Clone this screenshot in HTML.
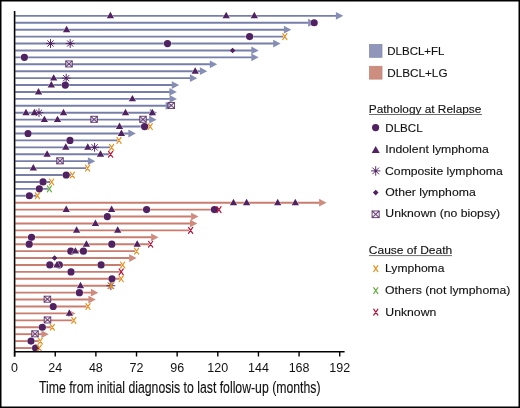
<!DOCTYPE html>
<html><head><meta charset="utf-8"><title>Swimmer plot</title>
<style>
html,body{margin:0;padding:0;background:#fff;}
body{width:520px;height:408px;overflow:hidden;font-family:"Liberation Sans",sans-serif;}
svg{display:block;will-change:transform;}
svg text{font-family:"Liberation Sans",sans-serif;fill:#111;stroke:#111;stroke-width:0.12px;}
</style></head><body>
<svg width='520' height='408' viewBox='0 0 520 408' font-family='Liberation Sans, sans-serif' fill='#111'><line x1="15.2" y1="15.85" x2="336.4" y2="15.85" stroke="#777fa9" stroke-width="1.9"/><polygon points="335.9,11.95 343.3,15.85 335.9,19.75" fill="#878eb6"/><line x1="15.2" y1="22.77" x2="308.6" y2="22.77" stroke="#777fa9" stroke-width="1.9"/><polygon points="308.1,18.87 315.5,22.77 308.1,26.67" fill="#878eb6"/><line x1="15.2" y1="29.69" x2="284.4" y2="29.69" stroke="#777fa9" stroke-width="1.9"/><polygon points="283.9,25.79 291.3,29.69 283.9,33.59" fill="#878eb6"/><line x1="15.2" y1="36.61" x2="283.3" y2="36.61" stroke="#777fa9" stroke-width="1.9"/><line x1="15.2" y1="43.53" x2="273.7" y2="43.53" stroke="#777fa9" stroke-width="1.9"/><polygon points="273.2,39.63 280.6,43.53 273.2,47.43" fill="#878eb6"/><line x1="15.2" y1="50.45" x2="251.8" y2="50.45" stroke="#777fa9" stroke-width="1.9"/><polygon points="251.3,46.55 258.7,50.45 251.3,54.35" fill="#878eb6"/><line x1="15.2" y1="57.37" x2="251.8" y2="57.37" stroke="#777fa9" stroke-width="1.9"/><polygon points="251.3,53.47 258.7,57.37 251.3,61.27" fill="#878eb6"/><line x1="15.2" y1="64.29" x2="210.3" y2="64.29" stroke="#777fa9" stroke-width="1.9"/><polygon points="209.8,60.39 217.2,64.29 209.8,68.19" fill="#878eb6"/><line x1="15.2" y1="71.21" x2="200.4" y2="71.21" stroke="#777fa9" stroke-width="1.9"/><polygon points="199.9,67.31 207.3,71.21 199.9,75.11" fill="#878eb6"/><line x1="15.2" y1="78.13" x2="190.4" y2="78.13" stroke="#777fa9" stroke-width="1.9"/><polygon points="189.9,74.23 197.3,78.13 189.9,82.03" fill="#878eb6"/><line x1="15.2" y1="85.05" x2="172.3" y2="85.05" stroke="#777fa9" stroke-width="1.9"/><polygon points="171.8,81.15 179.2,85.05 171.8,88.95" fill="#878eb6"/><line x1="15.2" y1="91.97" x2="169.9" y2="91.97" stroke="#777fa9" stroke-width="1.9"/><polygon points="169.4,88.07 176.8,91.97 169.4,95.87" fill="#878eb6"/><line x1="15.2" y1="98.89" x2="170.1" y2="98.89" stroke="#777fa9" stroke-width="1.9"/><polygon points="169.6,94.99 177,98.89 169.6,102.79" fill="#878eb6"/><line x1="15.2" y1="105.81" x2="166.1" y2="105.81" stroke="#777fa9" stroke-width="1.9"/><polygon points="165.6,101.91 173,105.81 165.6,109.71" fill="#878eb6"/><line x1="15.2" y1="112.73" x2="150.3" y2="112.73" stroke="#777fa9" stroke-width="1.9"/><polygon points="149.8,108.83 157.2,112.73 149.8,116.63" fill="#878eb6"/><line x1="15.2" y1="119.65" x2="149.7" y2="119.65" stroke="#777fa9" stroke-width="1.9"/><polygon points="149.2,115.75 156.6,119.65 149.2,123.55" fill="#878eb6"/><line x1="15.2" y1="126.57" x2="148.7" y2="126.57" stroke="#777fa9" stroke-width="1.9"/><line x1="15.2" y1="133.49" x2="128.9" y2="133.49" stroke="#777fa9" stroke-width="1.9"/><polygon points="128.4,129.59 135.8,133.49 128.4,137.39" fill="#878eb6"/><line x1="15.2" y1="140.41" x2="117.5" y2="140.41" stroke="#777fa9" stroke-width="1.9"/><line x1="15.2" y1="147.33" x2="110.1" y2="147.33" stroke="#777fa9" stroke-width="1.9"/><line x1="15.2" y1="154.25" x2="109.1" y2="154.25" stroke="#777fa9" stroke-width="1.9"/><line x1="15.2" y1="161.17" x2="88.4" y2="161.17" stroke="#777fa9" stroke-width="1.9"/><polygon points="87.9,157.27 95.3,161.17 87.9,165.07" fill="#878eb6"/><line x1="15.2" y1="168.09" x2="86.1" y2="168.09" stroke="#777fa9" stroke-width="1.9"/><line x1="15.2" y1="175.01" x2="70.9" y2="175.01" stroke="#777fa9" stroke-width="1.9"/><line x1="15.2" y1="181.93" x2="50.1" y2="181.93" stroke="#777fa9" stroke-width="1.9"/><line x1="15.2" y1="188.85" x2="47.9" y2="188.85" stroke="#777fa9" stroke-width="1.9"/><line x1="15.2" y1="195.77" x2="35.9" y2="195.77" stroke="#777fa9" stroke-width="1.9"/><line x1="15.2" y1="202.69" x2="319.6" y2="202.69" stroke="#c87d6e" stroke-width="1.9"/><polygon points="319.1,198.79 326.5,202.69 319.1,206.59" fill="#cf8c7e"/><line x1="15.2" y1="209.61" x2="217.5" y2="209.61" stroke="#c87d6e" stroke-width="1.9"/><line x1="15.2" y1="216.53" x2="191.6" y2="216.53" stroke="#c87d6e" stroke-width="1.9"/><polygon points="191.1,212.63 198.5,216.53 191.1,220.43" fill="#cf8c7e"/><line x1="15.2" y1="223.45" x2="190.5" y2="223.45" stroke="#c87d6e" stroke-width="1.9"/><polygon points="190,219.55 197.4,223.45 190,227.35" fill="#cf8c7e"/><line x1="15.2" y1="230.37" x2="189.1" y2="230.37" stroke="#c87d6e" stroke-width="1.9"/><line x1="15.2" y1="237.29" x2="151.6" y2="237.29" stroke="#c87d6e" stroke-width="1.9"/><polygon points="151.1,233.39 158.5,237.29 151.1,241.19" fill="#cf8c7e"/><line x1="15.2" y1="244.21" x2="149.1" y2="244.21" stroke="#c87d6e" stroke-width="1.9"/><line x1="15.2" y1="251.13" x2="135.1" y2="251.13" stroke="#c87d6e" stroke-width="1.9"/><line x1="15.2" y1="258.05" x2="129.7" y2="258.05" stroke="#c87d6e" stroke-width="1.9"/><polygon points="129.2,254.15 136.6,258.05 129.2,261.95" fill="#cf8c7e"/><line x1="15.2" y1="264.97" x2="121.2" y2="264.97" stroke="#c87d6e" stroke-width="1.9"/><line x1="15.2" y1="271.89" x2="119.7" y2="271.89" stroke="#c87d6e" stroke-width="1.9"/><line x1="15.2" y1="278.81" x2="119.7" y2="278.81" stroke="#c87d6e" stroke-width="1.9"/><line x1="15.2" y1="285.73" x2="109.5" y2="285.73" stroke="#c87d6e" stroke-width="1.9"/><line x1="15.2" y1="292.65" x2="91.4" y2="292.65" stroke="#c87d6e" stroke-width="1.9"/><polygon points="90.9,288.75 98.3,292.65 90.9,296.55" fill="#cf8c7e"/><line x1="15.2" y1="299.57" x2="88.9" y2="299.57" stroke="#c87d6e" stroke-width="1.9"/><polygon points="88.4,295.67 95.8,299.57 88.4,303.47" fill="#cf8c7e"/><line x1="15.2" y1="306.49" x2="86.5" y2="306.49" stroke="#c87d6e" stroke-width="1.9"/><line x1="15.2" y1="313.41" x2="68.6" y2="313.41" stroke="#c87d6e" stroke-width="1.9"/><polygon points="68.1,309.51 75.5,313.41 68.1,317.31" fill="#cf8c7e"/><line x1="15.2" y1="320.33" x2="72.3" y2="320.33" stroke="#c87d6e" stroke-width="1.9"/><line x1="15.2" y1="327.25" x2="50.8" y2="327.25" stroke="#c87d6e" stroke-width="1.9"/><line x1="15.2" y1="334.17" x2="41.9" y2="334.17" stroke="#c87d6e" stroke-width="1.9"/><polygon points="41.4,330.27 48.8,334.17 41.4,338.07" fill="#cf8c7e"/><line x1="15.2" y1="341.09" x2="38.8" y2="341.09" stroke="#c87d6e" stroke-width="1.9"/><line x1="15.2" y1="348.01" x2="37.7" y2="348.01" stroke="#c87d6e" stroke-width="1.9"/><polygon points="110.4,11.85 114.05,18.3 106.75,18.3" fill="none" stroke="#fff" stroke-width="0.9" stroke-opacity="0.7" stroke-linejoin="round"/><polygon points="110.4,11.85 114.05,18.3 106.75,18.3" fill="#512262"/><polygon points="226.2,11.85 229.85,18.3 222.55,18.3" fill="none" stroke="#fff" stroke-width="0.9" stroke-opacity="0.7" stroke-linejoin="round"/><polygon points="226.2,11.85 229.85,18.3 222.55,18.3" fill="#512262"/><polygon points="254.3,11.85 257.95,18.3 250.65,18.3" fill="none" stroke="#fff" stroke-width="0.9" stroke-opacity="0.7" stroke-linejoin="round"/><polygon points="254.3,11.85 257.95,18.3 250.65,18.3" fill="#512262"/><circle cx="314.2" cy="22.77" r="3.65" fill="none" stroke="#fff" stroke-width="0.8" stroke-opacity="0.7"/><circle cx="314.2" cy="22.77" r="3.6" fill="#512262"/><polygon points="66.6,25.69 70.25,32.14 62.95,32.14" fill="none" stroke="#fff" stroke-width="0.9" stroke-opacity="0.7" stroke-linejoin="round"/><polygon points="66.6,25.69 70.25,32.14 62.95,32.14" fill="#512262"/><circle cx="249.6" cy="36.61" r="3.65" fill="none" stroke="#fff" stroke-width="0.8" stroke-opacity="0.7"/><circle cx="249.6" cy="36.61" r="3.6" fill="#512262"/><path d="M282.7 33.66L286.9 39.56M282.7 39.56L286.9 33.66" stroke="#e8921c" stroke-width="1.2" stroke-linecap="round" fill="none"/><path d="M46.1 43.53H54.9M50.5 39.13V47.93M47.39 40.42L53.61 46.64M47.39 46.64L53.61 40.42" stroke="#512262" stroke-width="0.95" fill="none"/><circle cx="50.5" cy="43.53" r="1.2" fill="#512262"/><path d="M65.8 43.53H74.6M70.2 39.13V47.93M67.09 40.42L73.31 46.64M67.09 46.64L73.31 40.42" stroke="#512262" stroke-width="0.95" fill="none"/><circle cx="70.2" cy="43.53" r="1.2" fill="#512262"/><circle cx="167.5" cy="43.53" r="3.65" fill="none" stroke="#fff" stroke-width="0.8" stroke-opacity="0.7"/><circle cx="167.5" cy="43.53" r="3.6" fill="#512262"/><polygon points="232.6,47.65 235.4,50.45 232.6,53.25 229.8,50.45" fill="#512262"/><circle cx="24.4" cy="57.37" r="3.65" fill="none" stroke="#fff" stroke-width="0.8" stroke-opacity="0.7"/><circle cx="24.4" cy="57.37" r="3.6" fill="#512262"/><rect x="65.75" y="60.94" width="6.5" height="6" fill="#fff" fill-opacity="0.5"/><rect x="65.75" y="60.94" width="6.5" height="6" fill="none" stroke="#512262" stroke-opacity="0.82" stroke-width="1.05"/><path d="M65.75 60.94L72.25 66.94M65.75 66.94L72.25 60.94" stroke="#512262" stroke-opacity="0.82" stroke-width="1.05" fill="none"/><polygon points="195.2,67.21 198.85,73.66 191.55,73.66" fill="none" stroke="#fff" stroke-width="0.9" stroke-opacity="0.7" stroke-linejoin="round"/><polygon points="195.2,67.21 198.85,73.66 191.55,73.66" fill="#512262"/><polygon points="53.7,74.13 57.35,80.58 50.05,80.58" fill="none" stroke="#fff" stroke-width="0.9" stroke-opacity="0.7" stroke-linejoin="round"/><polygon points="53.7,74.13 57.35,80.58 50.05,80.58" fill="#512262"/><path d="M61.8 78.13H70.6M66.2 73.73V82.53M63.09 75.02L69.31 81.24M63.09 81.24L69.31 75.02" stroke="#512262" stroke-width="0.95" fill="none"/><circle cx="66.2" cy="78.13" r="1.2" fill="#512262"/><polygon points="51.3,81.05 54.95,87.5 47.65,87.5" fill="none" stroke="#fff" stroke-width="0.9" stroke-opacity="0.7" stroke-linejoin="round"/><polygon points="51.3,81.05 54.95,87.5 47.65,87.5" fill="#512262"/><circle cx="65.3" cy="85.05" r="3.65" fill="none" stroke="#fff" stroke-width="0.8" stroke-opacity="0.7"/><circle cx="65.3" cy="85.05" r="3.6" fill="#512262"/><polygon points="38.5,87.97 42.15,94.42 34.85,94.42" fill="none" stroke="#fff" stroke-width="0.9" stroke-opacity="0.7" stroke-linejoin="round"/><polygon points="38.5,87.97 42.15,94.42 34.85,94.42" fill="#512262"/><polygon points="132.4,94.89 136.05,101.34 128.75,101.34" fill="none" stroke="#fff" stroke-width="0.9" stroke-opacity="0.7" stroke-linejoin="round"/><polygon points="132.4,94.89 136.05,101.34 128.75,101.34" fill="#512262"/><rect x="167.95" y="102.46" width="6.5" height="6" fill="#fff" fill-opacity="0.5"/><rect x="167.95" y="102.46" width="6.5" height="6" fill="none" stroke="#512262" stroke-opacity="0.82" stroke-width="1.05"/><path d="M167.95 102.46L174.45 108.46M167.95 108.46L174.45 102.46" stroke="#512262" stroke-opacity="0.82" stroke-width="1.05" fill="none"/><polygon points="26,108.73 29.65,115.18 22.35,115.18" fill="none" stroke="#fff" stroke-width="0.9" stroke-opacity="0.7" stroke-linejoin="round"/><polygon points="26,108.73 29.65,115.18 22.35,115.18" fill="#512262"/><polygon points="34.4,108.73 38.05,115.18 30.75,115.18" fill="none" stroke="#fff" stroke-width="0.9" stroke-opacity="0.7" stroke-linejoin="round"/><polygon points="34.4,108.73 38.05,115.18 30.75,115.18" fill="#512262"/><path d="M34.6 112.73H43.4M39 108.33V117.13M35.89 109.62L42.11 115.84M35.89 115.84L42.11 109.62" stroke="#512262" stroke-width="0.95" fill="none"/><circle cx="39" cy="112.73" r="1.2" fill="#512262"/><polygon points="63.5,108.73 67.15,115.18 59.85,115.18" fill="none" stroke="#fff" stroke-width="0.9" stroke-opacity="0.7" stroke-linejoin="round"/><polygon points="63.5,108.73 67.15,115.18 59.85,115.18" fill="#512262"/><polygon points="125.5,108.73 129.15,115.18 121.85,115.18" fill="none" stroke="#fff" stroke-width="0.9" stroke-opacity="0.7" stroke-linejoin="round"/><polygon points="125.5,108.73 129.15,115.18 121.85,115.18" fill="#512262"/><polygon points="152.3,108.73 155.95,115.18 148.65,115.18" fill="none" stroke="#fff" stroke-width="0.9" stroke-opacity="0.7" stroke-linejoin="round"/><polygon points="152.3,108.73 155.95,115.18 148.65,115.18" fill="#512262"/><polygon points="44.4,115.65 48.05,122.1 40.75,122.1" fill="none" stroke="#fff" stroke-width="0.9" stroke-opacity="0.7" stroke-linejoin="round"/><polygon points="44.4,115.65 48.05,122.1 40.75,122.1" fill="#512262"/><polygon points="57.5,115.65 61.15,122.1 53.85,122.1" fill="none" stroke="#fff" stroke-width="0.9" stroke-opacity="0.7" stroke-linejoin="round"/><polygon points="57.5,115.65 61.15,122.1 53.85,122.1" fill="#512262"/><rect x="90.85" y="116.3" width="6.5" height="6" fill="#fff" fill-opacity="0.5"/><rect x="90.85" y="116.3" width="6.5" height="6" fill="none" stroke="#512262" stroke-opacity="0.82" stroke-width="1.05"/><path d="M90.85 116.3L97.35 122.3M90.85 122.3L97.35 116.3" stroke="#512262" stroke-opacity="0.82" stroke-width="1.05" fill="none"/><rect x="139.75" y="116.3" width="6.5" height="6" fill="#fff" fill-opacity="0.5"/><rect x="139.75" y="116.3" width="6.5" height="6" fill="none" stroke="#512262" stroke-opacity="0.82" stroke-width="1.05"/><path d="M139.75 116.3L146.25 122.3M139.75 122.3L146.25 116.3" stroke="#512262" stroke-opacity="0.82" stroke-width="1.05" fill="none"/><polygon points="119.5,122.57 123.15,129.02 115.85,129.02" fill="none" stroke="#fff" stroke-width="0.9" stroke-opacity="0.7" stroke-linejoin="round"/><polygon points="119.5,122.57 123.15,129.02 115.85,129.02" fill="#512262"/><circle cx="144.6" cy="126.57" r="3.65" fill="none" stroke="#fff" stroke-width="0.8" stroke-opacity="0.7"/><circle cx="144.6" cy="126.57" r="3.6" fill="#512262"/><path d="M148.1 123.62L152.3 129.52M148.1 129.52L152.3 123.62" stroke="#e8921c" stroke-width="1.2" stroke-linecap="round" fill="none"/><circle cx="28" cy="133.49" r="3.65" fill="none" stroke="#fff" stroke-width="0.8" stroke-opacity="0.7"/><circle cx="28" cy="133.49" r="3.6" fill="#512262"/><polygon points="121.4,129.49 125.05,135.94 117.75,135.94" fill="none" stroke="#fff" stroke-width="0.9" stroke-opacity="0.7" stroke-linejoin="round"/><polygon points="121.4,129.49 125.05,135.94 117.75,135.94" fill="#512262"/><circle cx="70" cy="140.41" r="3.65" fill="none" stroke="#fff" stroke-width="0.8" stroke-opacity="0.7"/><circle cx="70" cy="140.41" r="3.6" fill="#512262"/><path d="M116.9 137.46L121.1 143.36M116.9 143.36L121.1 137.46" stroke="#e8921c" stroke-width="1.2" stroke-linecap="round" fill="none"/><polygon points="65.8,143.33 69.45,149.78 62.15,149.78" fill="none" stroke="#fff" stroke-width="0.9" stroke-opacity="0.7" stroke-linejoin="round"/><polygon points="65.8,143.33 69.45,149.78 62.15,149.78" fill="#512262"/><polygon points="87.8,143.33 91.45,149.78 84.15,149.78" fill="none" stroke="#fff" stroke-width="0.9" stroke-opacity="0.7" stroke-linejoin="round"/><polygon points="87.8,143.33 91.45,149.78 84.15,149.78" fill="#512262"/><path d="M90.2 147.33H99M94.6 142.93V151.73M91.49 144.22L97.71 150.44M91.49 150.44L97.71 144.22" stroke="#512262" stroke-width="0.95" fill="none"/><circle cx="94.6" cy="147.33" r="1.2" fill="#512262"/><path d="M109.5 144.38L113.7 150.28M109.5 150.28L113.7 144.38" stroke="#e8921c" stroke-width="1.2" stroke-linecap="round" fill="none"/><polygon points="47.1,150.25 50.75,156.7 43.45,156.7" fill="none" stroke="#fff" stroke-width="0.9" stroke-opacity="0.7" stroke-linejoin="round"/><polygon points="47.1,150.25 50.75,156.7 43.45,156.7" fill="#512262"/><polygon points="100.5,150.25 104.15,156.7 96.85,156.7" fill="none" stroke="#fff" stroke-width="0.9" stroke-opacity="0.7" stroke-linejoin="round"/><polygon points="100.5,150.25 104.15,156.7 96.85,156.7" fill="#512262"/><path d="M108.5 151.3L112.7 157.2M108.5 157.2L112.7 151.3" stroke="#b3133a" stroke-width="1.2" stroke-linecap="round" fill="none"/><rect x="56.75" y="157.82" width="6.5" height="6" fill="#fff" fill-opacity="0.5"/><rect x="56.75" y="157.82" width="6.5" height="6" fill="none" stroke="#512262" stroke-opacity="0.82" stroke-width="1.05"/><path d="M56.75 157.82L63.25 163.82M56.75 163.82L63.25 157.82" stroke="#512262" stroke-opacity="0.82" stroke-width="1.05" fill="none"/><polygon points="33.3,164.09 36.95,170.54 29.65,170.54" fill="none" stroke="#fff" stroke-width="0.9" stroke-opacity="0.7" stroke-linejoin="round"/><polygon points="33.3,164.09 36.95,170.54 29.65,170.54" fill="#512262"/><path d="M85.5 165.14L89.7 171.04M85.5 171.04L89.7 165.14" stroke="#e8921c" stroke-width="1.2" stroke-linecap="round" fill="none"/><circle cx="66.2" cy="175.01" r="3.65" fill="none" stroke="#fff" stroke-width="0.8" stroke-opacity="0.7"/><circle cx="66.2" cy="175.01" r="3.6" fill="#512262"/><path d="M70.3 172.06L74.5 177.96M70.3 177.96L74.5 172.06" stroke="#e8921c" stroke-width="1.2" stroke-linecap="round" fill="none"/><circle cx="43" cy="181.93" r="3.65" fill="none" stroke="#fff" stroke-width="0.8" stroke-opacity="0.7"/><circle cx="43" cy="181.93" r="3.6" fill="#512262"/><path d="M49.5 178.98L53.7 184.88M49.5 184.88L53.7 178.98" stroke="#e8921c" stroke-width="1.2" stroke-linecap="round" fill="none"/><circle cx="39.3" cy="188.85" r="3.65" fill="none" stroke="#fff" stroke-width="0.8" stroke-opacity="0.7"/><circle cx="39.3" cy="188.85" r="3.6" fill="#512262"/><path d="M47.3 185.9L51.5 191.8M47.3 191.8L51.5 185.9" stroke="#6aae45" stroke-width="1.2" stroke-linecap="round" fill="none"/><circle cx="29.4" cy="195.77" r="3.65" fill="none" stroke="#fff" stroke-width="0.8" stroke-opacity="0.7"/><circle cx="29.4" cy="195.77" r="3.6" fill="#512262"/><path d="M35.3 192.82L39.5 198.72M35.3 198.72L39.5 192.82" stroke="#e8921c" stroke-width="1.2" stroke-linecap="round" fill="none"/><polygon points="233.5,198.69 237.15,205.14 229.85,205.14" fill="none" stroke="#fff" stroke-width="0.9" stroke-opacity="0.7" stroke-linejoin="round"/><polygon points="233.5,198.69 237.15,205.14 229.85,205.14" fill="#512262"/><polygon points="246.6,198.69 250.25,205.14 242.95,205.14" fill="none" stroke="#fff" stroke-width="0.9" stroke-opacity="0.7" stroke-linejoin="round"/><polygon points="246.6,198.69 250.25,205.14 242.95,205.14" fill="#512262"/><polygon points="277.7,198.69 281.35,205.14 274.05,205.14" fill="none" stroke="#fff" stroke-width="0.9" stroke-opacity="0.7" stroke-linejoin="round"/><polygon points="277.7,198.69 281.35,205.14 274.05,205.14" fill="#512262"/><polygon points="295.3,198.69 298.95,205.14 291.65,205.14" fill="none" stroke="#fff" stroke-width="0.9" stroke-opacity="0.7" stroke-linejoin="round"/><polygon points="295.3,198.69 298.95,205.14 291.65,205.14" fill="#512262"/><polygon points="66.2,205.61 69.85,212.06 62.55,212.06" fill="none" stroke="#fff" stroke-width="0.9" stroke-opacity="0.7" stroke-linejoin="round"/><polygon points="66.2,205.61 69.85,212.06 62.55,212.06" fill="#512262"/><polygon points="111.6,205.61 115.25,212.06 107.95,212.06" fill="none" stroke="#fff" stroke-width="0.9" stroke-opacity="0.7" stroke-linejoin="round"/><polygon points="111.6,205.61 115.25,212.06 107.95,212.06" fill="#512262"/><circle cx="146.6" cy="209.61" r="3.65" fill="none" stroke="#fff" stroke-width="0.8" stroke-opacity="0.7"/><circle cx="146.6" cy="209.61" r="3.6" fill="#512262"/><circle cx="214.4" cy="209.61" r="3.65" fill="none" stroke="#fff" stroke-width="0.8" stroke-opacity="0.7"/><circle cx="214.4" cy="209.61" r="3.6" fill="#512262"/><path d="M216.9 206.66L221.1 212.56M216.9 212.56L221.1 206.66" stroke="#b3133a" stroke-width="1.2" stroke-linecap="round" fill="none"/><circle cx="107.3" cy="216.53" r="3.65" fill="none" stroke="#fff" stroke-width="0.8" stroke-opacity="0.7"/><circle cx="107.3" cy="216.53" r="3.6" fill="#512262"/><polygon points="95.4,219.45 99.05,225.9 91.75,225.9" fill="none" stroke="#fff" stroke-width="0.9" stroke-opacity="0.7" stroke-linejoin="round"/><polygon points="95.4,219.45 99.05,225.9 91.75,225.9" fill="#512262"/><polygon points="76.6,226.37 80.25,232.82 72.95,232.82" fill="none" stroke="#fff" stroke-width="0.9" stroke-opacity="0.7" stroke-linejoin="round"/><polygon points="76.6,226.37 80.25,232.82 72.95,232.82" fill="#512262"/><polygon points="117.7,226.37 121.35,232.82 114.05,232.82" fill="none" stroke="#fff" stroke-width="0.9" stroke-opacity="0.7" stroke-linejoin="round"/><polygon points="117.7,226.37 121.35,232.82 114.05,232.82" fill="#512262"/><path d="M188.5 227.42L192.7 233.32M188.5 233.32L192.7 227.42" stroke="#b3133a" stroke-width="1.2" stroke-linecap="round" fill="none"/><circle cx="31.5" cy="237.29" r="3.65" fill="none" stroke="#fff" stroke-width="0.8" stroke-opacity="0.7"/><circle cx="31.5" cy="237.29" r="3.6" fill="#512262"/><circle cx="29.2" cy="244.21" r="3.65" fill="none" stroke="#fff" stroke-width="0.8" stroke-opacity="0.7"/><circle cx="29.2" cy="244.21" r="3.6" fill="#512262"/><polygon points="86.4,240.21 90.05,246.66 82.75,246.66" fill="none" stroke="#fff" stroke-width="0.9" stroke-opacity="0.7" stroke-linejoin="round"/><polygon points="86.4,240.21 90.05,246.66 82.75,246.66" fill="#512262"/><circle cx="111.8" cy="244.21" r="3.65" fill="none" stroke="#fff" stroke-width="0.8" stroke-opacity="0.7"/><circle cx="111.8" cy="244.21" r="3.6" fill="#512262"/><polygon points="137.2,240.21 140.85,246.66 133.55,246.66" fill="none" stroke="#fff" stroke-width="0.9" stroke-opacity="0.7" stroke-linejoin="round"/><polygon points="137.2,240.21 140.85,246.66 133.55,246.66" fill="#512262"/><path d="M148.5 241.26L152.7 247.16M148.5 247.16L152.7 241.26" stroke="#b3133a" stroke-width="1.2" stroke-linecap="round" fill="none"/><circle cx="70.8" cy="251.13" r="3.65" fill="none" stroke="#fff" stroke-width="0.8" stroke-opacity="0.7"/><circle cx="70.8" cy="251.13" r="3.6" fill="#512262"/><polygon points="75.4,247.13 79.05,253.58 71.75,253.58" fill="none" stroke="#fff" stroke-width="0.9" stroke-opacity="0.7" stroke-linejoin="round"/><polygon points="75.4,247.13 79.05,253.58 71.75,253.58" fill="#512262"/><circle cx="83.4" cy="251.13" r="3.65" fill="none" stroke="#fff" stroke-width="0.8" stroke-opacity="0.7"/><circle cx="83.4" cy="251.13" r="3.6" fill="#512262"/><path d="M134.5 248.18L138.7 254.08M134.5 254.08L138.7 248.18" stroke="#e8921c" stroke-width="1.2" stroke-linecap="round" fill="none"/><polygon points="54.6,255.25 57.4,258.05 54.6,260.85 51.8,258.05" fill="#512262"/><circle cx="49.8" cy="264.97" r="3.65" fill="none" stroke="#fff" stroke-width="0.8" stroke-opacity="0.7"/><circle cx="49.8" cy="264.97" r="3.6" fill="#512262"/><circle cx="59.3" cy="264.97" r="3.65" fill="none" stroke="#fff" stroke-width="0.8" stroke-opacity="0.7"/><circle cx="59.3" cy="264.97" r="3.6" fill="#512262"/><polygon points="57,260.97 60.65,267.42 53.35,267.42" fill="none" stroke="#fff" stroke-width="0.9" stroke-opacity="0.7" stroke-linejoin="round"/><polygon points="57,260.97 60.65,267.42 53.35,267.42" fill="#512262"/><circle cx="101.1" cy="264.97" r="3.65" fill="none" stroke="#fff" stroke-width="0.8" stroke-opacity="0.7"/><circle cx="101.1" cy="264.97" r="3.6" fill="#512262"/><path d="M120.6 262.02L124.8 267.92M120.6 267.92L124.8 262.02" stroke="#e8921c" stroke-width="1.2" stroke-linecap="round" fill="none"/><circle cx="71" cy="271.89" r="3.65" fill="none" stroke="#fff" stroke-width="0.8" stroke-opacity="0.7"/><circle cx="71" cy="271.89" r="3.6" fill="#512262"/><path d="M119.1 268.94L123.3 274.84M119.1 274.84L123.3 268.94" stroke="#b3133a" stroke-width="1.2" stroke-linecap="round" fill="none"/><circle cx="112" cy="278.81" r="3.65" fill="none" stroke="#fff" stroke-width="0.8" stroke-opacity="0.7"/><circle cx="112" cy="278.81" r="3.6" fill="#512262"/><path d="M119.1 275.86L123.3 281.76M119.1 281.76L123.3 275.86" stroke="#e8921c" stroke-width="1.2" stroke-linecap="round" fill="none"/><polygon points="80.5,281.73 84.15,288.18 76.85,288.18" fill="none" stroke="#fff" stroke-width="0.9" stroke-opacity="0.7" stroke-linejoin="round"/><polygon points="80.5,281.73 84.15,288.18 76.85,288.18" fill="#512262"/><path d="M106.5 285.73H115.3M110.9 281.33V290.13M107.79 282.62L114.01 288.84M107.79 288.84L114.01 282.62" stroke="#512262" stroke-width="0.95" fill="none"/><circle cx="110.9" cy="285.73" r="1.2" fill="#512262"/><path d="M108.9 282.78L113.1 288.68M108.9 288.68L113.1 282.78" stroke="#e8921c" stroke-width="1.2" stroke-linecap="round" fill="none"/><circle cx="79.4" cy="292.65" r="3.65" fill="none" stroke="#fff" stroke-width="0.8" stroke-opacity="0.7"/><circle cx="79.4" cy="292.65" r="3.6" fill="#512262"/><rect x="44.15" y="296.22" width="6.5" height="6" fill="#fff" fill-opacity="0.5"/><rect x="44.15" y="296.22" width="6.5" height="6" fill="none" stroke="#512262" stroke-opacity="0.82" stroke-width="1.05"/><path d="M44.15 296.22L50.65 302.22M44.15 302.22L50.65 296.22" stroke="#512262" stroke-opacity="0.82" stroke-width="1.05" fill="none"/><circle cx="53.2" cy="306.49" r="3.65" fill="none" stroke="#fff" stroke-width="0.8" stroke-opacity="0.7"/><circle cx="53.2" cy="306.49" r="3.6" fill="#512262"/><path d="M85.9 303.54L90.1 309.44M85.9 309.44L90.1 303.54" stroke="#e8921c" stroke-width="1.2" stroke-linecap="round" fill="none"/><polygon points="69.4,309.41 73.05,315.86 65.75,315.86" fill="none" stroke="#fff" stroke-width="0.9" stroke-opacity="0.7" stroke-linejoin="round"/><polygon points="69.4,309.41 73.05,315.86 65.75,315.86" fill="#512262"/><rect x="44.25" y="316.98" width="6.5" height="6" fill="#fff" fill-opacity="0.5"/><rect x="44.25" y="316.98" width="6.5" height="6" fill="none" stroke="#512262" stroke-opacity="0.82" stroke-width="1.05"/><path d="M44.25 316.98L50.75 322.98M44.25 322.98L50.75 316.98" stroke="#512262" stroke-opacity="0.82" stroke-width="1.05" fill="none"/><path d="M71.7 317.38L75.9 323.28M71.7 323.28L75.9 317.38" stroke="#e8921c" stroke-width="1.2" stroke-linecap="round" fill="none"/><circle cx="42.3" cy="327.25" r="3.65" fill="none" stroke="#fff" stroke-width="0.8" stroke-opacity="0.7"/><circle cx="42.3" cy="327.25" r="3.6" fill="#512262"/><path d="M50.2 324.3L54.4 330.2M50.2 330.2L54.4 324.3" stroke="#e8921c" stroke-width="1.2" stroke-linecap="round" fill="none"/><rect x="31.75" y="330.82" width="6.5" height="6" fill="#fff" fill-opacity="0.5"/><rect x="31.75" y="330.82" width="6.5" height="6" fill="none" stroke="#512262" stroke-opacity="0.82" stroke-width="1.05"/><path d="M31.75 330.82L38.25 336.82M31.75 336.82L38.25 330.82" stroke="#512262" stroke-opacity="0.82" stroke-width="1.05" fill="none"/><circle cx="31" cy="341.09" r="3.65" fill="none" stroke="#fff" stroke-width="0.8" stroke-opacity="0.7"/><circle cx="31" cy="341.09" r="3.6" fill="#512262"/><path d="M38.2 338.14L42.4 344.04M38.2 344.04L42.4 338.14" stroke="#e8921c" stroke-width="1.2" stroke-linecap="round" fill="none"/><circle cx="35.6" cy="348.01" r="3.65" fill="none" stroke="#fff" stroke-width="0.8" stroke-opacity="0.7"/><circle cx="35.6" cy="348.01" r="3.6" fill="#512262"/><path d="M37.1 345.06L41.3 350.96M37.1 350.96L41.3 345.06" stroke="#e8921c" stroke-width="1.2" stroke-linecap="round" fill="none"/><line x1="14.6" y1="11" x2="14.6" y2="356.5" stroke="#000" stroke-width="1.6"/><line x1="14.6" y1="351.7" x2="344.6" y2="351.7" stroke="#000" stroke-width="1.6"/><line x1="14.6" y1="351.7" x2="14.6" y2="356.5" stroke="#000" stroke-width="1.4"/><text x="14.6" y="371.9" text-anchor="middle" font-size="12.5" style="stroke:none">0</text><line x1="55.24" y1="351.7" x2="55.24" y2="356.5" stroke="#000" stroke-width="1.4"/><text x="55.24" y="371.9" text-anchor="middle" font-size="12.5" style="stroke:none">24</text><line x1="95.88" y1="351.7" x2="95.88" y2="356.5" stroke="#000" stroke-width="1.4"/><text x="95.88" y="371.9" text-anchor="middle" font-size="12.5" style="stroke:none">48</text><line x1="136.52" y1="351.7" x2="136.52" y2="356.5" stroke="#000" stroke-width="1.4"/><text x="136.52" y="371.9" text-anchor="middle" font-size="12.5" style="stroke:none">72</text><line x1="177.16" y1="351.7" x2="177.16" y2="356.5" stroke="#000" stroke-width="1.4"/><text x="177.16" y="371.9" text-anchor="middle" font-size="12.5" style="stroke:none">96</text><line x1="217.8" y1="351.7" x2="217.8" y2="356.5" stroke="#000" stroke-width="1.4"/><text x="217.8" y="371.9" text-anchor="middle" font-size="12.5" style="stroke:none">120</text><line x1="258.44" y1="351.7" x2="258.44" y2="356.5" stroke="#000" stroke-width="1.4"/><text x="258.44" y="371.9" text-anchor="middle" font-size="12.5" style="stroke:none">144</text><line x1="299.08" y1="351.7" x2="299.08" y2="356.5" stroke="#000" stroke-width="1.4"/><text x="299.08" y="371.9" text-anchor="middle" font-size="12.5" style="stroke:none">168</text><line x1="339.72" y1="351.7" x2="339.72" y2="356.5" stroke="#000" stroke-width="1.4"/><text x="339.72" y="371.9" text-anchor="middle" font-size="12.5" style="stroke:none">192</text><text x="39" y="393.1" font-size="15.6" textLength="281.5" lengthAdjust="spacingAndGlyphs">Time from initial diagnosis to last follow-up (months)</text><rect x="369.5" y="44.5" width="12.5" height="12.8" fill="#8f96ba" stroke="#868db3" stroke-width="0.8"/><rect x="369.5" y="66.3" width="12.5" height="12.8" fill="#cd8e7f" stroke="#c58576" stroke-width="0.8"/><text x="387.3" y="54.9" font-size="11.6" textLength="57.2" lengthAdjust="spacingAndGlyphs">DLBCL+FL</text><text x="387.3" y="76.5" font-size="11.6" textLength="60.2" lengthAdjust="spacingAndGlyphs">DLBCL+LG</text><text x="368.8" y="113.2" font-size="11.6" textLength="112.5" lengthAdjust="spacingAndGlyphs">Pathology at Relapse</text><line x1="369" y1="114.5" x2="482" y2="114.5" stroke="#555" stroke-width="0.85"/><text x="385.3" y="131.5" font-size="11.6" textLength="37.3" lengthAdjust="spacingAndGlyphs">DLBCL</text><text x="385.3" y="153.1" font-size="11.6" textLength="103.4" lengthAdjust="spacingAndGlyphs">Indolent lymphoma</text><text x="385.1" y="174.8" font-size="11.6" textLength="117.6" lengthAdjust="spacingAndGlyphs">Composite lymphoma</text><text x="385.3" y="195.9" font-size="11.6" textLength="90.4" lengthAdjust="spacingAndGlyphs">Other lymphoma</text><text x="385.3" y="217.3" font-size="11.6" textLength="114.9" lengthAdjust="spacingAndGlyphs">Unknown (no biopsy)</text><text x="368.8" y="254.1" font-size="11.6" textLength="83.4" lengthAdjust="spacingAndGlyphs">Cause of Death</text><line x1="369" y1="255.6" x2="452" y2="255.6" stroke="#555" stroke-width="0.85"/><text x="385.1" y="272.1" font-size="11.6" textLength="59.3" lengthAdjust="spacingAndGlyphs">Lymphoma</text><text x="385.1" y="293.7" font-size="11.6" textLength="125.2" lengthAdjust="spacingAndGlyphs">Others (not lymphoma)</text><text x="385.3" y="315.5" font-size="11.6" textLength="51.0" lengthAdjust="spacingAndGlyphs">Unknown</text><circle cx="375.6" cy="127.6" r="3.6" fill="#512262"/><polygon points="375.7,145.9 379.7,152.9 371.7,152.9" fill="#512262"/><path d="M371 170.9H380.4M375.7 166.2V175.6M372.38 167.58L379.02 174.22M372.38 174.22L379.02 167.58" stroke="#512262" stroke-width="0.95" fill="none"/><circle cx="375.7" cy="170.9" r="1.2" fill="#512262"/><polygon points="375.7,189.8 378.5,192.6 375.7,195.4 372.9,192.6" fill="#512262"/><rect x="372.1" y="211" width="7.1" height="6.6" fill="#fff" fill-opacity="0.5"/><rect x="372.1" y="211" width="7.1" height="6.6" fill="none" stroke="#512262" stroke-opacity="0.82" stroke-width="1.05"/><path d="M372.1 211L379.2 217.6M372.1 217.6L379.2 211" stroke="#512262" stroke-opacity="0.82" stroke-width="1.05" fill="none"/><path d="M373.7 265.65L377.9 271.55M373.7 271.55L377.9 265.65" stroke="#e8921c" stroke-width="1.2" stroke-linecap="round" fill="none"/><path d="M373.7 287.65L377.9 293.55M373.7 293.55L377.9 287.65" stroke="#6aae45" stroke-width="1.2" stroke-linecap="round" fill="none"/><path d="M373.7 309.15L377.9 315.05M373.7 315.05L377.9 309.15" stroke="#b3133a" stroke-width="1.2" stroke-linecap="round" fill="none"/><rect x='0.75' y='0.75' width='518.5' height='406.5' fill='none' stroke='#000' stroke-width='1.5'/></svg>
</body></html>
